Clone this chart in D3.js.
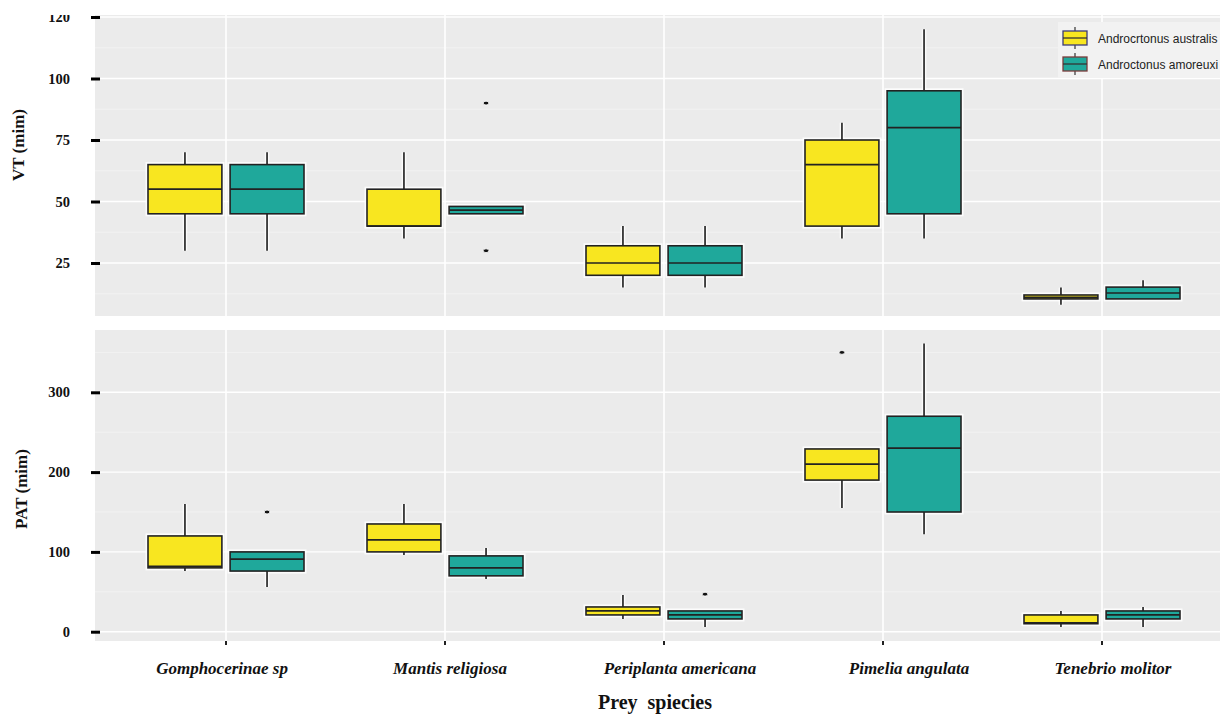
<!DOCTYPE html>
<html>
<head>
<meta charset="utf-8">
<script src="https://cdn.jsdelivr.net/npm/d3@7"></script>
<style>
    body { margin: 0; background: #fff; }
    svg { display: block; }
</style>
</head>
<body>
<div id="chart"></div>
<script>
// Prey species on the x axis, scorpion species as fill groups
const categories = ["Gomphocerinae sp", "Mantis religiosa", "Periplanta americana", "Pimelia angulata", "Tenebrio molitor"];
const groups = ["Androcrtonus australis", "Androctonus amoreuxi"];

// Box stats per prey: [lower whisker, q1, median, q3, upper whisker]
const vtAustralis = [[30, 45, 55, 65, 70], [35, 40, 40, 55, 70], [15, 20, 25, 32, 40], [35, 40, 65, 75, 82], [8, 10.4, 11, 12, 15]];
const vtAmoreuxi = [[30, 45, 55, 65, 70], [45, 45, 46.5, 48, 48], [15, 20, 25, 32, 40], [35, 45, 80, 95, 120], [10.4, 10.4, 12.8, 15.2, 18]];
const vtOutAustralis = [[], [], [], [], []];
const vtOutAmoreuxi = [[], [90, 30], [], [], []];

const patAustralis = [[76, 80, 82, 120, 160], [96, 100, 115, 135, 160], [16, 21, 26, 31, 46], [155, 190, 210, 229, 229], [6, 10, 11, 21, 26]];
const patAmoreuxi = [[56, 76, 91, 100, 100], [66, 70, 80, 95, 105], [6, 16, 21, 26, 26], [122, 150, 230, 270, 361], [6, 16, 21, 26, 31]];
const patOutAustralis = [[], [], [], [350], []];
const patOutAmoreuxi = [[150], [], [47], [], []];

// Tick values and the labels as printed
const vtTicks = [25, 50, 75, 100, 125];
const vtTickLabels = ["25", "50", "75", "100", "120"];
const patTicks = [0, 100, 200, 300];
const patTickLabels = ["0", "100", "200", "300"];

// Layout
const width = 1220, height = 715;
const panelLeft = 95, panelRight = 1220;
const topPanel = { top: 15, bottom: 316 };
const botPanel = { top: 330, bottom: 641 };
const labelNudge = [-4, 5, 16, 26, 11];   // the printed x labels sit a bit off their ticks

const COLORS = {
    PANEL: "#ebebeb",
    YELLOW: "#f8e620",
    TEAL: "#1fa89b",
    EDGE: "#222222"
};
const fills = [COLORS.YELLOW, COLORS.TEAL];
const serif = "'Liberation Serif', 'Times New Roman', serif";

const svg = d3.select("#chart").append("svg")
    .attr("width", width)
    .attr("height", height)
    .style("background", "#fff");

const x = d3.scaleBand().domain(categories).range([116.5, 1211.5]);
const sub = d3.scaleBand().domain(groups).range([-78, 78]).paddingInner(0.1);
const center = c => x(c) + x.bandwidth() / 2;

const yVT = d3.scaleLinear().domain([25, 100]).range([263, 78.5]);
const yPAT = d3.scaleLinear().domain([0, 300]).range([631.7, 392.3]);

function drawPanel(panel, y, ticks, tickLabels, seriesStats, seriesOut, clipId)
{
    const g = svg.append("g");

    // background
    g.append("rect")
        .attr("x", panelLeft)
        .attr("y", panel.top)
        .attr("width", panelRight - panelLeft)
        .attr("height", panel.bottom - panel.top)
        .attr("fill", COLORS.PANEL);

    // minor grid between the major ticks
    const step = ticks[1] - ticks[0];
    const minor = [ticks[0] - step / 2].concat(ticks.map(t => t + step / 2))
        .filter(v => y(v) > panel.top && y(v) < panel.bottom);
    g.selectAll(".minor")
        .data(minor)
        .enter()
        .append("line")
        .attr("x1", panelLeft).attr("x2", panelRight)
        .attr("y1", d => y(d)).attr("y2", d => y(d))
        .attr("stroke", "#f4f4f4")
        .attr("stroke-width", 0.8);

    g.selectAll(".major")
        .data(ticks.filter(v => y(v) > panel.top))
        .enter()
        .append("line")
        .attr("x1", panelLeft).attr("x2", panelRight)
        .attr("y1", d => y(d)).attr("y2", d => y(d))
        .attr("stroke", "#ffffff")
        .attr("stroke-width", 1.4);

    g.selectAll(".vgrid")
        .data(categories)
        .enter()
        .append("line")
        .attr("x1", d => center(d)).attr("x2", d => center(d))
        .attr("y1", panel.top).attr("y2", panel.bottom)
        .attr("stroke", "#ffffff")
        .attr("stroke-width", 1.6);

    // y axis, ticks drawn as short heavy dashes (the top label is cut by the panel edge)
    svg.append("clipPath").attr("id", clipId)
        .append("rect")
        .attr("x", 0).attr("y", panel.top)
        .attr("width", panelLeft + 10).attr("height", panel.bottom - panel.top);

    const axis = svg.append("g")
        .attr("clip-path", "url(#" + clipId + ")")
        .append("g")
        .attr("transform", "translate(100,0)")
        .call(d3.axisLeft(y)
            .tickValues(ticks)
            .tickFormat((d, i) => tickLabels[i])
            .tickSize(9)
            .tickPadding(21));
    axis.select(".domain").remove();
    axis.selectAll(".tick line").attr("stroke", "#000").attr("stroke-width", 3);
    axis.selectAll(".tick text")
        .attr("fill", "#111")
        .style("font-family", serif)
        .style("font-weight", "bold")
        .style("font-size", "14.5px");

    // boxes
    groups.forEach((grp, gi) => {
        const stats = seriesStats[gi];
        const outs = seriesOut[gi];
        const bw = sub.bandwidth();
        categories.forEach((cat, ci) => {
            const s = stats[ci];
            const cx = center(cat) + sub(grp) + bw / 2;
            const bg = g.append("g");

            // white halo under everything
            [[s[0], s[1]], [s[3], s[4]]].forEach(seg => {
                if (seg[0] === seg[1]) return;
                bg.append("line")
                    .attr("x1", cx).attr("x2", cx)
                    .attr("y1", y(seg[0])).attr("y2", y(seg[1]))
                    .attr("stroke", "#fff").attr("stroke-opacity", 0.8)
                    .attr("stroke-width", 4.5);
            });
            bg.append("rect")
                .attr("x", cx - bw / 2).attr("width", bw)
                .attr("y", y(s[3])).attr("height", Math.max(1, y(s[1]) - y(s[3])))
                .attr("fill", "none")
                .attr("stroke", "#fff").attr("stroke-opacity", 0.85)
                .attr("stroke-width", 5);

            // whiskers
            [[s[0], s[1]], [s[3], s[4]]].forEach(seg => {
                if (seg[0] === seg[1]) return;
                bg.append("line")
                    .attr("x1", cx).attr("x2", cx)
                    .attr("y1", y(seg[0])).attr("y2", y(seg[1]))
                    .attr("stroke", "#333")
                    .attr("stroke-width", 1.8);
            });

            // box and median
            bg.append("rect")
                .attr("x", cx - bw / 2).attr("width", bw)
                .attr("y", y(s[3])).attr("height", Math.max(1, y(s[1]) - y(s[3])))
                .attr("fill", fills[gi])
                .attr("stroke", COLORS.EDGE)
                .attr("stroke-width", 1.6);
            bg.append("line")
                .attr("x1", cx - bw / 2).attr("x2", cx + bw / 2)
                .attr("y1", y(s[2])).attr("y2", y(s[2]))
                .attr("stroke", COLORS.EDGE)
                .attr("stroke-width", 1.7);

            // outliers
            bg.selectAll(".outlier")
                .data(outs[ci])
                .enter()
                .append("ellipse")
                .attr("cx", cx).attr("cy", d => y(d))
                .attr("rx", 2.8).attr("ry", 1.9)
                .attr("fill", "#111")
                .attr("stroke", "#fff").attr("stroke-width", 0.8);
        });
    });
}

drawPanel(topPanel, yVT, vtTicks, vtTickLabels, [vtAustralis, vtAmoreuxi], [vtOutAustralis, vtOutAmoreuxi], "clipVT");
drawPanel(botPanel, yPAT, patTicks, patTickLabels, [patAustralis, patAmoreuxi], [patOutAustralis, patOutAmoreuxi], "clipPAT");

// x axis under the lower panel
const xAxis = svg.append("g")
    .attr("transform", "translate(0," + botPanel.bottom + ")")
    .call(d3.axisBottom(x).tickSize(4).tickPadding(17));
xAxis.select(".domain").remove();
xAxis.selectAll(".tick line").attr("stroke", "#222").attr("stroke-width", 2);
xAxis.selectAll(".tick text")
    .attr("fill", "#111")
    .attr("dx", (d, i) => labelNudge[i])
    .style("font-family", serif)
    .style("font-weight", "bold")
    .style("font-style", "italic")
    .style("font-size", "17px");

// axis titles
svg.append("text")
    .attr("transform", "translate(24,145) rotate(-90)")
    .attr("text-anchor", "middle")
    .style("font-family", serif)
    .style("font-weight", "bold")
    .style("font-size", "17px")
    .attr("fill", "#111")
    .text("VT (mim)");

svg.append("text")
    .attr("transform", "translate(27,489) rotate(-90)")
    .attr("text-anchor", "middle")
    .style("font-family", serif)
    .style("font-weight", "bold")
    .style("font-size", "17px")
    .attr("fill", "#111")
    .text("PAT (mim)");

svg.append("text")
    .attr("x", 655)
    .attr("y", 709)
    .attr("text-anchor", "middle")
    .style("font-family", serif)
    .style("font-weight", "bold")
    .style("font-size", "20px")
    .style("white-space", "pre")
    .attr("fill", "#111")
    .text("Prey  spiecies");

// legend
const legend = svg.append("g").attr("transform", "translate(1058,22)");
legend.append("rect")
    .attr("width", 162).attr("height", 56)
    .attr("fill", "#f2f2f2");
const keyEdges = ["#3b3b7a", "#7a3b3b"];
groups.forEach((grp, i) => {
    const k = legend.append("g").attr("transform", "translate(5," + (9 + i * 26) + ")");
    k.append("line")
        .attr("x1", 12).attr("x2", 12).attr("y1", -4).attr("y2", 18)
        .attr("stroke", "#333").attr("stroke-width", 1.2);
    k.append("rect")
        .attr("width", 24).attr("height", 14)
        .attr("fill", fills[i])
        .attr("stroke", keyEdges[i]).attr("stroke-width", 1.3);
    k.append("line")
        .attr("x1", 0).attr("x2", 24).attr("y1", 7).attr("y2", 7)
        .attr("stroke", "#333").attr("stroke-width", 1.3);
    k.append("text")
        .attr("x", 35).attr("y", 11.5)
        .style("font-family", "'Liberation Sans', Arial, sans-serif")
        .style("font-size", "12px")
        .attr("fill", "#222")
        .text(grp);
});
</script>
</body>
</html>
